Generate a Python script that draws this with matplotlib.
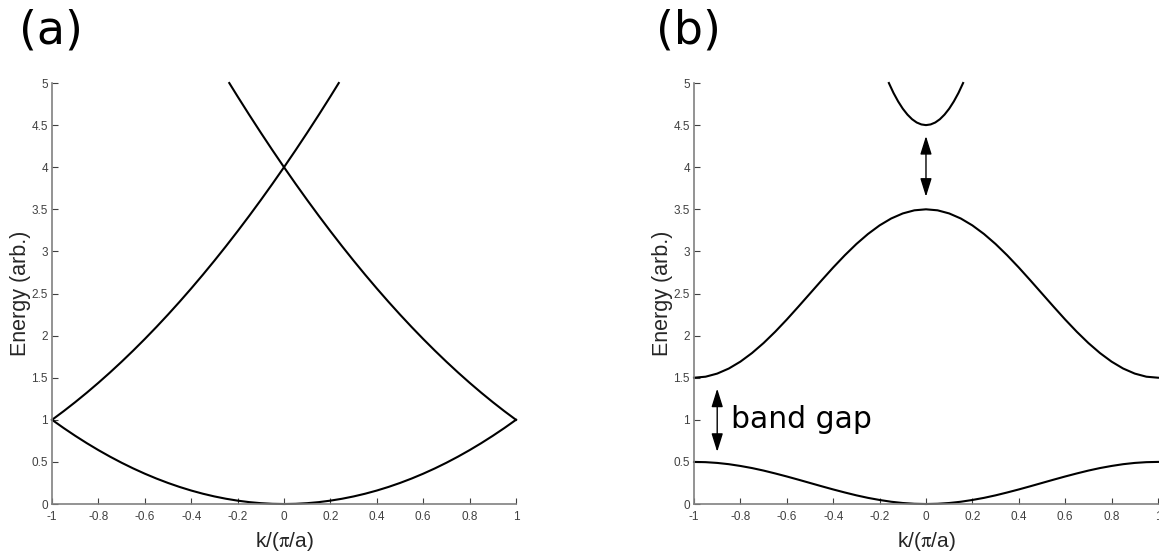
import matplotlib
matplotlib.use("Agg")
import matplotlib.pyplot as plt

plt.rcParams['mathtext.fontset'] = 'stix'

# (a) free electron bands
k_a = [-1.0, -0.95, -0.9, -0.85, -0.8, -0.75, -0.7, -0.65, -0.6, -0.55, -0.5,
       -0.45, -0.4, -0.35, -0.3, -0.25, -0.2, -0.15, -0.1, -0.05, 0.0,
       0.05, 0.1, 0.15, 0.2, 0.25, 0.3, 0.35, 0.4, 0.45, 0.5,
       0.55, 0.6, 0.65, 0.7, 0.75, 0.8, 0.85, 0.9, 0.95, 1.0]
e_a_low = [1.0, 0.9025, 0.81, 0.7225, 0.64, 0.5625, 0.49, 0.4225, 0.36, 0.3025, 0.25,
           0.2025, 0.16, 0.1225, 0.09, 0.0625, 0.04, 0.0225, 0.01, 0.0025, 0.0,
           0.0025, 0.01, 0.0225, 0.04, 0.0625, 0.09, 0.1225, 0.16, 0.2025, 0.25,
           0.3025, 0.36, 0.4225, 0.49, 0.5625, 0.64, 0.7225, 0.81, 0.9025, 1.0]

k_a_rise = [-1.0, -0.95, -0.9, -0.85, -0.8, -0.75, -0.7, -0.65, -0.6, -0.55, -0.5,
            -0.45, -0.4, -0.35, -0.3, -0.25, -0.2, -0.15, -0.1, -0.05, 0.0,
            0.05, 0.1, 0.15, 0.2, 0.236]
e_a_rise = [1.0, 1.1025, 1.21, 1.3225, 1.44, 1.5625, 1.69, 1.8225, 1.96, 2.1025, 2.25,
            2.4025, 2.56, 2.7225, 2.89, 3.0625, 3.24, 3.4225, 3.61, 3.8025, 4.0,
            4.2025, 4.41, 4.6225, 4.84, 5.0]
k_a_fall = [-0.236, -0.2, -0.15, -0.1, -0.05, 0.0, 0.05, 0.1, 0.15, 0.2, 0.25,
            0.3, 0.35, 0.4, 0.45, 0.5, 0.55, 0.6, 0.65, 0.7, 0.75,
            0.8, 0.85, 0.9, 0.95, 1.0]
e_a_fall = [5.0, 4.84, 4.6225, 4.41, 4.2025, 4.0, 3.8025, 3.61, 3.4225, 3.24, 3.0625,
            2.89, 2.7225, 2.56, 2.4025, 2.25, 2.1025, 1.96, 1.8225, 1.69, 1.5625,
            1.44, 1.3225, 1.21, 1.1025, 1.0]

# (b) nearly free electron bands
k_b = k_a
e_b_band1 = [0.5, 0.497, 0.488, 0.473, 0.452, 0.427, 0.397, 0.363, 0.327, 0.289, 0.25,
             0.211, 0.173, 0.137, 0.103, 0.073, 0.048, 0.027, 0.012, 0.003, 0.0,
             0.003, 0.012, 0.027, 0.048, 0.073, 0.103, 0.137, 0.173, 0.211, 0.25,
             0.289, 0.327, 0.363, 0.397, 0.427, 0.452, 0.473, 0.488, 0.497, 0.5]
e_b_band2 = [1.5, 1.512, 1.549, 1.609, 1.691, 1.793, 1.912, 2.046, 2.191, 2.344, 2.5,
             2.656, 2.809, 2.954, 3.088, 3.207, 3.309, 3.391, 3.451, 3.488, 3.5,
             3.488, 3.451, 3.391, 3.309, 3.207, 3.088, 2.954, 2.809, 2.656, 2.5,
             2.344, 2.191, 2.046, 1.912, 1.793, 1.691, 1.609, 1.549, 1.512, 1.5]
k_b_top = [-0.16, -0.14, -0.12, -0.10, -0.08, -0.06, -0.04, -0.02, 0.0,
           0.02, 0.04, 0.06, 0.08, 0.10, 0.12, 0.14, 0.16]
e_b_band3 = [5.0, 4.882, 4.781, 4.695, 4.625, 4.570, 4.531, 4.508, 4.5,
             4.508, 4.531, 4.570, 4.625, 4.695, 4.781, 4.882, 5.0]

x_ticks = [-1, -0.8, -0.6, -0.4, -0.2, 0, 0.2, 0.4, 0.6, 0.8, 1]
x_ticklabels = ['-1', '-0.8', '-0.6', '-0.4', '-0.2', '0', '0.2', '0.4', '0.6', '0.8', '1']
y_ticks = [0, 0.5, 1, 1.5, 2, 2.5, 3, 3.5, 4, 4.5, 5]
y_ticklabels = ['0', '0.5', '1', '1.5', '2', '2.5', '3', '3.5', '4', '4.5', '5']

fig = plt.figure(figsize=(11.59, 5.56), dpi=100)
ax_a = fig.add_axes([0.0449, 0.0935, 0.4003, 0.7572])
ax_b = fig.add_axes([0.5988, 0.0935, 0.4003, 0.7572])


def style_axes(ax):
    ax.set_xlim(-1, 1)
    ax.set_ylim(0, 5)
    ax.set_xticks(x_ticks)
    ax.set_xticklabels(x_ticklabels)
    ax.set_yticks(y_ticks)
    ax.set_yticklabels(y_ticklabels)
    for side in ['top', 'right']:
        ax.spines[side].set_visible(False)
    for side in ['left', 'bottom']:
        ax.spines[side].set_color('#808080')
        ax.spines[side].set_linewidth(1.2)
    ax.tick_params(direction='in', length=4, width=0.8, color='#404040',
                   labelsize=8.5, labelcolor='#404040')
    ax.tick_params(axis='x', pad=5)
    ax.tick_params(axis='y', pad=3)
    for lab in ax.get_xticklabels() + ax.get_yticklabels():
        lab.set_family('Liberation Sans')
    ax.set_xlabel('k/($\\mathrm{\\pi}$/a)', fontsize=15, family='Liberation Sans',
                  color='#262626', labelpad=5)
    ax.set_ylabel('Energy (arb.)', fontsize=15.5, family='Liberation Sans',
                  color='#262626', labelpad=0)


ax_a.plot(k_a, e_a_low, color='black', lw=1.5, clip_on=False)
ax_a.plot(k_a_rise, e_a_rise, color='black', lw=1.5, clip_on=False)
ax_a.plot(k_a_fall, e_a_fall, color='black', lw=1.5, clip_on=False)
style_axes(ax_a)

ax_b.plot(k_b, e_b_band1, color='black', lw=1.5, clip_on=False)
ax_b.plot(k_b, e_b_band2, color='black', lw=1.5, clip_on=False)
ax_b.plot(k_b_top, e_b_band3, color='black', lw=1.5, clip_on=False)
style_axes(ax_b)

arrow = dict(arrowstyle='<|-|>,head_length=0.8,head_width=0.25',
             color='black', lw=1, shrinkA=0, shrinkB=0, mutation_scale=14)
ax_b.annotate('', xy=(-0.9, 1.37), xytext=(-0.9, 0.62), arrowprops=arrow)
ax_b.annotate('', xy=(0.0, 4.37), xytext=(0.0, 3.65), arrowprops=arrow)
ax_b.text(-0.84, 1.0, 'band gap', fontsize=21.5, va='center', ha='left')

fig.text(0.016, 0.985, '(a)', fontsize=33, va='top', ha='left')
fig.text(0.566, 0.985, '(b)', fontsize=33, va='top', ha='left')

fig.savefig('out.png', dpi=100)
